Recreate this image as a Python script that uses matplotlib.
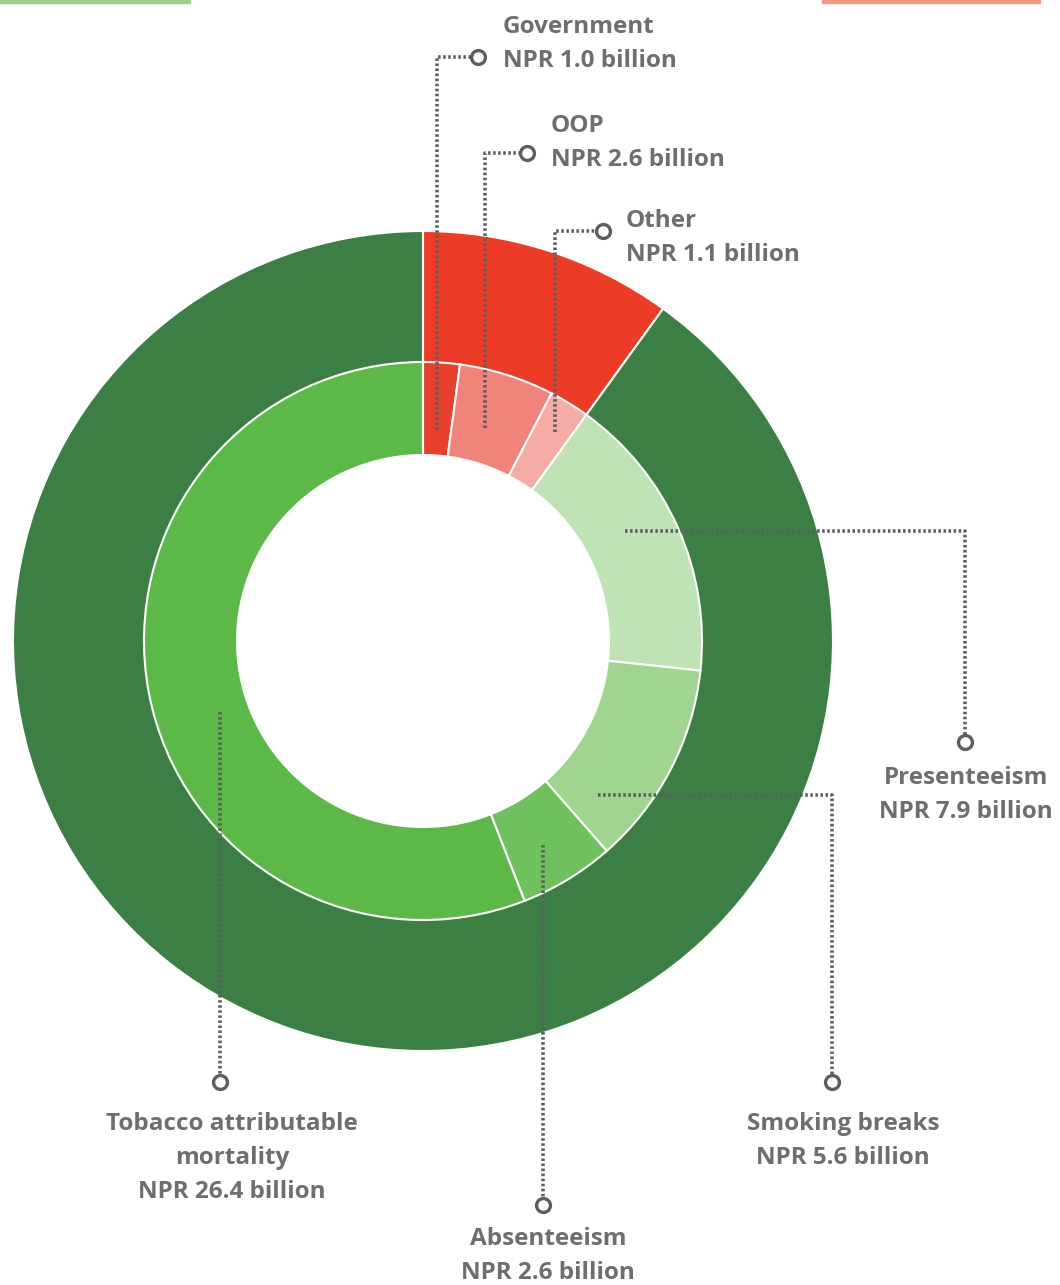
import matplotlib
matplotlib.use("Agg")
import matplotlib.pyplot as plt
from matplotlib.patches import Rectangle

# ---- data ----
inner_labels = ["Government", "OOP", "Other", "Presenteeism", "Smoking breaks",
                "Absenteeism", "Tobacco attributable\nmortality"]
inner_values = [1.0, 2.6, 1.1, 7.9, 5.6, 2.6, 26.4]
outer_labels = ["Health care costs", "Productivity losses"]
outer_groups = [[0, 1, 2], [3, 4, 5, 6]]

# ---- styles ----
outer_colors = ["#ee3b25", "#3c7f44"]
inner_colors = ["#e8402c", "#f1847a", "#f6aca6", "#bfe3b5", "#a0d590", "#6fc15e", "#5cb947"]
text_color = "#6d6e71"
line_color = "#5e5e60"

W, H = 1060, 1285
fig = plt.figure(figsize=(W / 100, H / 100), dpi=100)
ax = fig.add_axes([0, 0, 1, 1])

def Y(y):
    return H - y

cx, cy = 423, Y(641)
outer_values = [sum(inner_values[i] for i in g) for g in outer_groups]

ax.pie(outer_values, radius=410, center=(cx, cy), startangle=90, counterclock=False,
       colors=outer_colors, wedgeprops=dict(width=132, edgecolor="white", linewidth=1.5))
ax.pie(inner_values, radius=279, center=(cx, cy), startangle=90, counterclock=False,
       colors=inner_colors, wedgeprops=dict(width=93, edgecolor="white", linewidth=1.5))

ax.set_xlim(0, W)
ax.set_ylim(0, H)
ax.set_aspect("equal")
ax.axis("off")

# leader lines (pixel coordinates, top-left origin)
leaders = [
    [(437, 430), (437, 57), (478, 57)],
    [(485, 428), (485, 153), (527, 153)],
    [(555, 432), (555, 231), (603, 231)],
    [(625, 531), (965, 531), (965, 742)],
    [(598, 795), (832, 795), (832, 1082)],
    [(543, 845), (543, 1205)],
    [(220, 712), (220, 1082)],
]
for path in leaders:
    xs = [p[0] for p in path]
    ys = [Y(p[1]) for p in path]
    ax.plot(xs, ys, color=line_color, lw=2.6, linestyle=(0, (0.7, 0.7)),
            solid_capstyle="butt", zorder=3)
    ax.plot(xs[-1], ys[-1], marker="o", ms=10, mfc="white", mec=line_color, mew=2.4, zorder=4)

# labels
font = dict(fontfamily="Open Sans", fontweight="bold", fontsize=17.5, color=text_color)
label_pos = [
    (503, 44, "left"), (551, 143, "left"), (626, 238, "left"),
    (966, 795, "center"), (843, 1141, "center"), (548, 1256, "center"), (232, 1158, "center"),
]
for lab, val, (x, y, ha) in zip(inner_labels, inner_values, label_pos):
    ax.text(x, Y(y), f"{lab}\nNPR {val:.1f} billion", ha=ha, va="center",
            linespacing=1.55, **font)

# cut-off legend bars at top edge
fig.patches.append(Rectangle((0, 1 - 3 / H), 190 / W, 3 / H, transform=fig.transFigure,
                             color="#9ccf8c", zorder=5))
fig.patches.append(Rectangle((822 / W, 1 - 3 / H), 218 / W, 3 / H, transform=fig.transFigure,
                             color="#f29a80", zorder=5))

fig.savefig("out.png", dpi=100)
